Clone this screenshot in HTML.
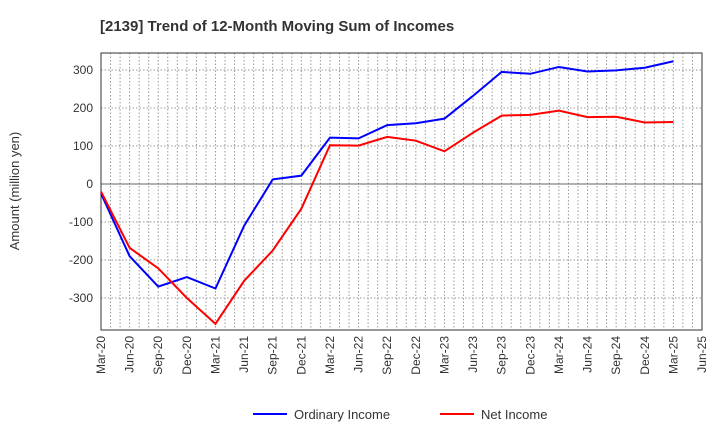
<!DOCTYPE html>
<html><head><meta charset="utf-8"><style>
body{margin:0;background:#fff;font-family:"Liberation Sans",sans-serif}
</style></head><body>
<svg id="c" width="720" height="440" xmlns="http://www.w3.org/2000/svg">
<text x="100" y="31" font-size="15" font-weight="bold" fill="#333">[2139]  Trend of 12-Month Moving Sum of Incomes</text>
<text transform="translate(19,191) rotate(-90)" text-anchor="middle" font-size="13" fill="#333">Amount (million yen)</text>
<g id="grid"></g><g id="axes"></g><g id="series"></g>
<g>
<line x1="253" y1="414" x2="287" y2="414" stroke="#0000ff" stroke-width="2"/>
<text x="294" y="419" font-size="13" fill="#333">Ordinary Income</text>
<line x1="440" y1="414" x2="474" y2="414" stroke="#ff0000" stroke-width="2"/>
<text x="481" y="419" font-size="13" fill="#333">Net Income</text>
</g>
</svg>
<script>
const categories=["Mar-20","Jun-20","Sep-20","Dec-20","Mar-21","Jun-21","Sep-21","Dec-21","Mar-22","Jun-22","Sep-22","Dec-22","Mar-23","Jun-23","Sep-23","Dec-23","Mar-24","Jun-24","Sep-24","Dec-24","Mar-25","Jun-25"];
const ordinaryIncome=[-25,-190,-270,-245,-275,-110,12,22,122,120,155,160,172,232,295,290,308,296,299,306,323];
const netIncome=[-20,-168,-222,-300,-368,-255,-175,-65,102,101,124,114,86,135,180,182,193,176,177,162,163];
const yTicks=[-300,-200,-100,0,100,200,300];
const L=101,R=702,T=53,B=330;
const X=i=>L+(R-L)*i/(categories.length-1);
const Y=v=>184-v*0.38;
const ns="http://www.w3.org/2000/svg";
function mk(p,t,a){const e=document.createElementNS(ns,t);for(const k in a)e.setAttribute(k,a[k]);p.appendChild(e);return e;}
const g=document.getElementById('grid'),ax=document.getElementById('axes'),s=document.getElementById('series');
const months=(categories.length-1)*3;
for(let m=1;m<months;m++){const x=L+(R-L)*m/months;const l=mk(g,'line',{x1:x,x2:x,y1:T,y2:B,stroke:'#999','stroke-dasharray':'1.5,2','stroke-width':1});

}
yTicks.forEach(v=>{const y=Y(v);const l=mk(g,'line',{x1:L,x2:R,y1:y,y2:y,stroke:v===0?'#666':'#999','stroke-dasharray':v===0?'':'1.5,2','stroke-width':1});


const t=mk(ax,'text',{x:L-8,y:y+4,'text-anchor':'end','font-size':12,fill:'#333'});t.textContent=v;

});
const fr=mk(ax,'rect',{x:L,y:T,width:R-L,height:B-T,fill:'none',stroke:'#333','stroke-width':1});


categories.forEach((c,i)=>{const x=X(i);const t=mk(ax,'text',{transform:`translate(${x+4},${B+6}) rotate(-90)`,'text-anchor':'end','font-size':12,fill:'#333'});t.textContent=c;

});
function line(d,col,name){const p=mk(s,'polyline',{points:d.map((v,i)=>X(i)+','+Y(v)).join(' '),fill:'none',stroke:col,'stroke-width':2});

}
line(ordinaryIncome,'#0000ff','ordinary-income-line');
line(netIncome,'#ff0000','net-income-line');
</script>
</body></html>
